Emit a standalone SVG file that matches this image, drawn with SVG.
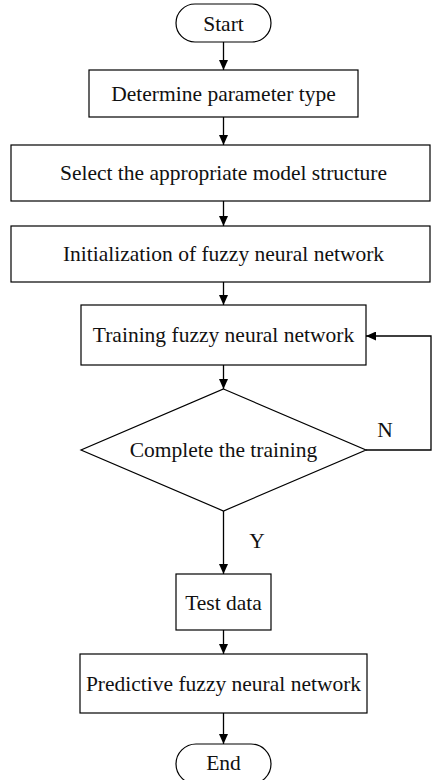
<svg xmlns="http://www.w3.org/2000/svg" width="432" height="780" viewBox="0 0 432 780">
  <style>
    .shape { fill: #ffffff; stroke: #000000; stroke-width: 1.2; }
    .label { font-family: "Liberation Serif", "Times New Roman", serif; font-size: 21.5px; fill: #111111; text-anchor: middle; }
    .edge { fill: none; stroke: #000000; stroke-width: 1.3; marker-end: url(#arrow); }
  </style>
  <defs>
    <marker id="arrow" markerUnits="userSpaceOnUse" markerWidth="11" markerHeight="9" refX="10" refY="4.5" orient="auto">
      <path d="M0,0 L10,4.5 L0,9 Z" fill="#000000"/>
    </marker>
  </defs>
  <rect width="432" height="780" fill="#ffffff"/>

  <g id="connectors">
    <line class="edge" x1="223.5" y1="42" x2="223.5" y2="70"/>
    <line class="edge" x1="223.5" y1="117" x2="223.5" y2="145"/>
    <line class="edge" x1="223.5" y1="201" x2="223.5" y2="226"/>
    <line class="edge" x1="223.5" y1="282" x2="223.5" y2="305"/>
    <line class="edge" x1="223.5" y1="365" x2="223.5" y2="389"/>
    <polyline class="edge" points="366,450 431,450 431,336 366,336"/>
    <line class="edge" x1="223.5" y1="511" x2="223.5" y2="574"/>
    <line class="edge" x1="223.5" y1="630" x2="223.5" y2="654"/>
    <line class="edge" x1="223.5" y1="713" x2="223.5" y2="744"/>
    <text class="label" x="385" y="437">N</text>
    <text class="label" x="257" y="548">Y</text>
  </g>

  <g id="start">
    <rect class="shape" x="176" y="4" width="95" height="38" rx="19" ry="19"/>
    <text class="label" x="223.5" y="30.5">Start</text>
  </g>
  <g id="determine">
    <rect class="shape" x="89" y="70" width="269" height="47"/>
    <text class="label" x="223.5" y="100.5">Determine parameter type</text>
  </g>
  <g id="select">
    <rect class="shape" x="11" y="145" width="419" height="56"/>
    <text class="label" x="223.5" y="180">Select the appropriate model structure</text>
  </g>
  <g id="init">
    <rect class="shape" x="11" y="226" width="419" height="56"/>
    <text class="label" x="223.5" y="260.5">Initialization of fuzzy neural network</text>
  </g>
  <g id="training">
    <rect class="shape" x="81" y="305" width="285" height="60"/>
    <text class="label" x="223.5" y="342">Training fuzzy neural network</text>
  </g>
  <g id="complete">
    <polygon class="shape" points="223.5,389 366,450 223.5,511 81,450"/>
    <text class="label" x="223.5" y="457">Complete the training</text>
  </g>
  <g id="test">
    <rect class="shape" x="176" y="574" width="95" height="56"/>
    <text class="label" x="223.5" y="609.5">Test data</text>
  </g>
  <g id="predictive">
    <rect class="shape" x="80" y="654" width="287" height="59"/>
    <text class="label" x="223.5" y="691">Predictive fuzzy neural network</text>
  </g>
  <g id="end">
    <rect class="shape" x="176" y="744" width="95" height="40" rx="20" ry="20"/>
    <text class="label" x="223.5" y="770">End</text>
  </g>
</svg>
